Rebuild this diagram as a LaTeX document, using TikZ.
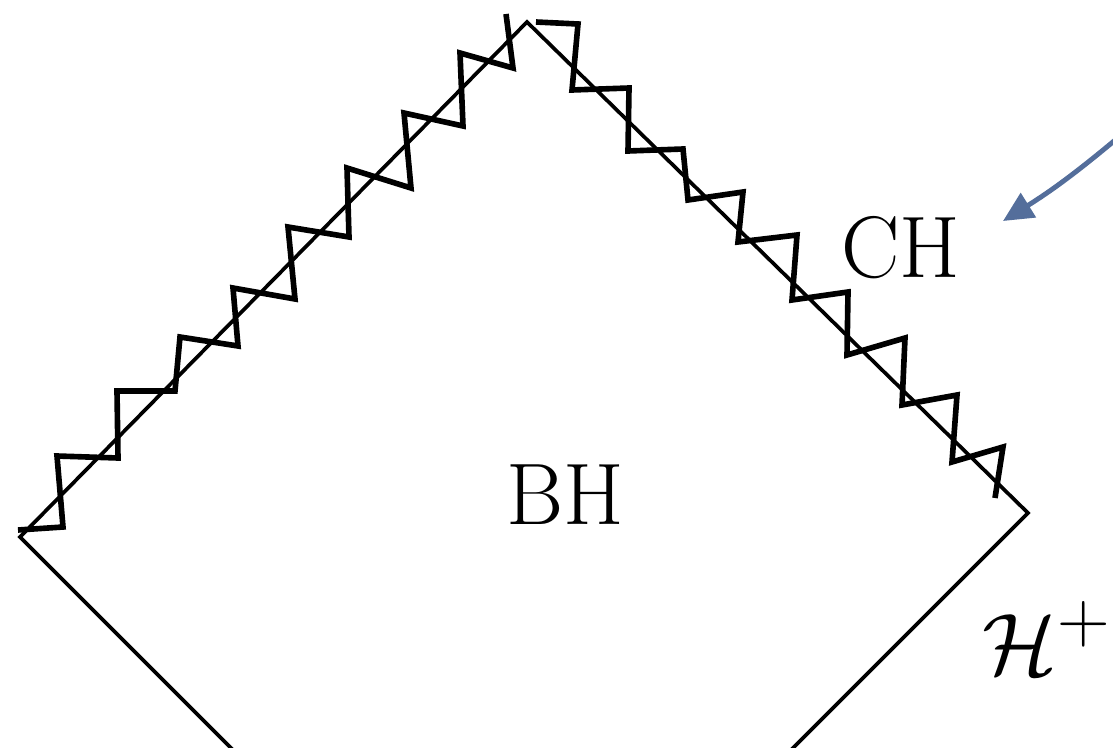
\documentclass[tikz,border=0pt]{standalone}
\usepackage{amsmath,amssymb}
\usepackage{fontspec}
\usetikzlibrary{arrows.meta}
\definecolor{arrowblue}{RGB}{84,110,155}

\begin{document}
\begin{tikzpicture}[x=1cm,y=1cm]
\tikzset{
  edgeline/.style={line width=2.1pt},
  singular/.style={line width=3.2pt,line join=miter},
  region/.style={inner sep=0pt,font=\Huge,scale=2.0},
  pointer/.style={-{Triangle[length=6mm,width=5.6mm]},line width=2.8pt,draw=arrowblue,fill=arrowblue}
}
\useasboundingbox (0,0) rectangle (22.26,14.94);
\clip (0,0) rectangle (22.26,14.94);
% corners of the diagram
\coordinate (c_top) at (10.54,14.50);
\coordinate (c_left) at (0.40,4.20);
\coordinate (c_right) at (20.56,4.68);
\coordinate (c_bot) at (10.24,-5.64);
\draw[edgeline] (c_top) -- (c_right) -- (c_bot) -- (c_left) -- cycle;
% singularities
\draw[singular] (0.36,4.34) -- (1.26,4.40) -- (1.14,5.82) -- (2.36,5.78) -- (2.34,7.12)
  -- (3.50,7.12) -- (3.60,8.20) -- (4.76,8.02) -- (4.66,9.18) -- (5.90,8.96)
  -- (5.76,10.40) -- (6.98,10.20) -- (6.94,11.58) -- (8.22,11.18) -- (8.08,12.68)
  -- (9.26,12.42) -- (9.20,13.88) -- (10.26,13.58) -- (10.12,14.66);
\draw[singular] (10.72,14.50) -- (11.56,14.46) -- (11.44,13.14) -- (12.58,13.18) -- (12.56,11.92)
  -- (13.66,11.96) -- (13.76,10.94) -- (14.86,11.10) -- (14.76,10.10) -- (15.94,10.24)
  -- (15.84,8.94) -- (16.96,9.10) -- (16.94,7.84) -- (18.10,8.18) -- (18.04,6.84)
  -- (19.14,7.04) -- (19.04,5.70) -- (20.06,6.00) -- (19.90,4.98);
% labels
\node[region] (n_BH) at (11.30,5.04) {BH};
\node[region] (n_CH) at (18.02,9.98) {CH};
\node[region] (n_Hplus) at (20.94,2.18) {$\mathcal{H}^+$};
\coordinate (c_from) at (22.40,12.22);
\coordinate (c_to) at (20.06,10.52);
\draw[pointer] (c_from) to[bend left=4] (c_to);
\end{tikzpicture}
\end{document}
